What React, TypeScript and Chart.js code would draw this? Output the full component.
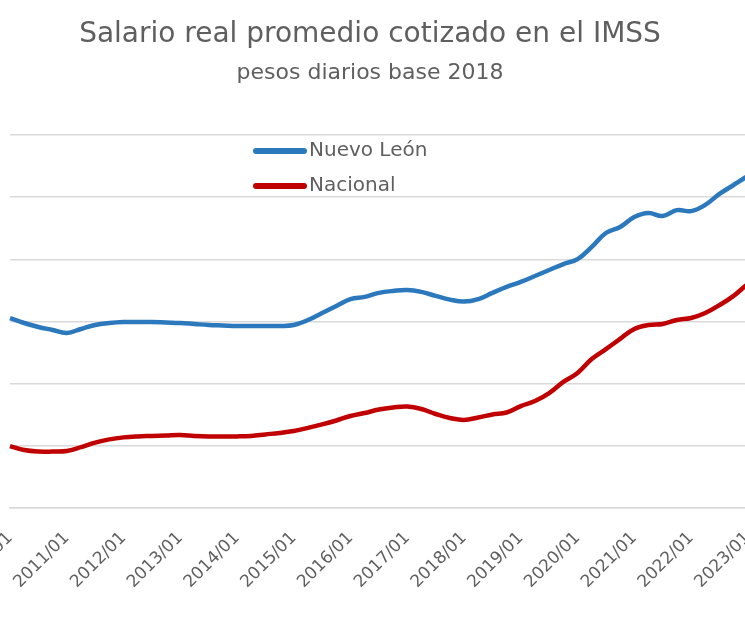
import React, { useEffect, useRef } from "react";
import { Chart, registerables } from "chart.js";

Chart.register(...registerables);

// Quarterly periods (the x axis only labels each January)
const periods = [
  "2010/01", "2010/04", "2010/07", "2010/10",
  "2011/01", "2011/04", "2011/07", "2011/10",
  "2012/01", "2012/04", "2012/07", "2012/10",
  "2013/01", "2013/04", "2013/07", "2013/10",
  "2014/01", "2014/04", "2014/07", "2014/10",
  "2015/01", "2015/04", "2015/07", "2015/10",
  "2016/01", "2016/04", "2016/07", "2016/10",
  "2017/01", "2017/04", "2017/07", "2017/10",
  "2018/01", "2018/04", "2018/07", "2018/10",
  "2019/01", "2019/04", "2019/07", "2019/10",
  "2020/01", "2020/04", "2020/07", "2020/10",
  "2021/01", "2021/04", "2021/07", "2021/10",
  "2022/01", "2022/04", "2022/07", "2022/10",
  "2023/01", "2023/04",
];

// Salario real promedio, pesos diarios base 2018
const nuevoLeon = [
  401.4, 399.4, 397.8, 396.6,
  395.4, 397.0, 398.6, 399.4,
  399.8, 399.8, 399.8, 399.6,
  399.4, 399.0, 398.6, 398.4,
  398.2, 398.2, 398.2, 398.2,
  398.6, 400.6, 403.4, 406.2,
  409.0, 409.9, 411.5, 412.3,
  412.7, 411.9, 410.3, 408.8,
  408.0, 409.0, 411.5, 413.9,
  415.9, 418.3, 420.7, 423.1,
  425.1, 430.0, 435.6, 438.0,
  442.0, 443.6, 442.4, 444.8,
  444.4, 446.9, 451.3, 454.9,
  458.5, 461.7,
];

const nacional = [
  349.9, 348.3, 347.7, 347.7,
  347.9, 349.5, 351.3, 352.6,
  353.4, 353.8, 354.0, 354.2,
  354.4, 354.0, 353.8, 353.8,
  353.8, 354.0, 354.6, 355.2,
  356.0, 357.2, 358.6, 360.2,
  362.0, 363.2, 364.6, 365.4,
  365.8, 364.8, 362.8, 361.2,
  360.4, 361.4, 362.6, 363.4,
  366.0, 368.0, 371.2, 375.7,
  379.3, 384.9, 388.9, 393.0,
  397.0, 398.6, 399.0, 400.6,
  401.4, 403.4, 406.6, 410.3,
  415.1, 418.7,
];

const yMin = 325;
const yMax = 475;
const yStep = 25;

const seriesNames = ["Nuevo León", "Nacional"];
const titleText = "Salario real promedio cotizado en el IMSS";
const subtitleText = "pesos diarios base 2018";

// Layout: the picture is a crop of a wider chart
const VIEW_W = 745;
const VIEW_H = 622;
const CUT_LEFT = 60;
const CANVAS_W = 860;
const FONT = '"DejaVu Sans", "Open Sans", sans-serif';
const GREY = "#5f5f5f";

const insideLegend = {
  id: "insideLegend",
  afterDatasetsDraw(chart: any) {
    const { ctx, chartArea } = chart;
    chart.data.datasets.forEach((ds: any, i: number) => {
      const y = chartArea.top + 16 + i * 35;
      const x0 = chartArea.left + 246;
      ctx.save();
      ctx.strokeStyle = ds.borderColor;
      ctx.lineWidth = 6;
      ctx.lineCap = "round";
      ctx.beginPath();
      ctx.moveTo(x0, y);
      ctx.lineTo(x0 + 48, y);
      ctx.stroke();
      ctx.fillStyle = GREY;
      ctx.font = `20px ${FONT}`;
      ctx.textBaseline = "middle";
      ctx.textAlign = "left";
      ctx.fillText(ds.label, x0 + 53, y);
      ctx.restore();
    });
  },
};

export default function App() {
  const canvasRef = useRef<HTMLCanvasElement | null>(null);

  useEffect(() => {
    const canvas = canvasRef.current;
    if (!canvas) return;
    const chart = new Chart(canvas, {
      type: "line",
      data: {
        labels: periods,
        datasets: [
          {
            label: seriesNames[0],
            data: nuevoLeon,
            borderColor: "#2B78BD",
            backgroundColor: "#2B78BD",
            borderWidth: 4.5,
            pointRadius: 0,
            tension: 0.4,
            fill: false,
          },
          {
            label: seriesNames[1],
            data: nacional,
            borderColor: "#C00000",
            backgroundColor: "#C00000",
            borderWidth: 4.5,
            pointRadius: 0,
            tension: 0.4,
            fill: false,
          },
        ],
      },
      options: {
        responsive: false,
        animation: false,
        layout: { padding: 0 },
        plugins: {
          legend: { display: false },
          tooltip: { enabled: false },
          title: {
            display: true,
            text: titleText,
            color: GREY,
            font: { family: FONT, size: 28, weight: "normal" },
            padding: { top: 17.5, bottom: 5 },
          },
          subtitle: {
            display: true,
            text: subtitleText,
            color: GREY,
            font: { family: FONT, size: 22, weight: "normal" },
            padding: { top: 4, bottom: 48.5 },
          },
        },
        scales: {
          x: {
            type: "category",
            offset: false,
            grid: { display: false, drawTicks: false },
            border: { display: true, color: "#d9d9d9", width: 1.5 },
            ticks: {
              autoSkip: false,
              minRotation: 45,
              maxRotation: 45,
              padding: 20,
              color: GREY,
              font: { family: FONT, size: 17 },
              callback: (_v: any, i: number) =>
                periods[i].endsWith("/01") ? periods[i] : "",
            },
            afterFit: (s: any) => {
              s.height = VIEW_H - 508;
            },
          },
          y: {
            min: yMin,
            max: yMax,
            ticks: { display: false, stepSize: yStep },
            grid: { color: "#d9d9d9", lineWidth: 1.5, drawTicks: false },
            border: { display: false },
            afterFit: (s: any) => {
              s.width = CUT_LEFT + 10;
            },
          },
          yRight: {
            position: "right",
            display: true,
            min: yMin,
            max: yMax,
            ticks: { display: false },
            grid: { display: false, drawTicks: false },
            border: { display: false },
            afterFit: (s: any) => {
              s.width = CANVAS_W - (CUT_LEFT + 762);
            },
          },
        },
      },
      plugins: [insideLegend],
    });
    return () => chart.destroy();
  }, []);

  return (
    <div
      style={{
        position: "fixed",
        left: 0,
        top: 0,
        width: VIEW_W,
        height: VIEW_H,
        overflow: "hidden",
        background: "#fff",
      }}
    >
      <div style={{ position: "absolute", left: -CUT_LEFT, top: 0 }}>
        <canvas
          ref={canvasRef}
          width={CANVAS_W}
          height={VIEW_H}
          style={{ display: "block", width: CANVAS_W, height: VIEW_H }}
        />
      </div>
    </div>
  );
}
